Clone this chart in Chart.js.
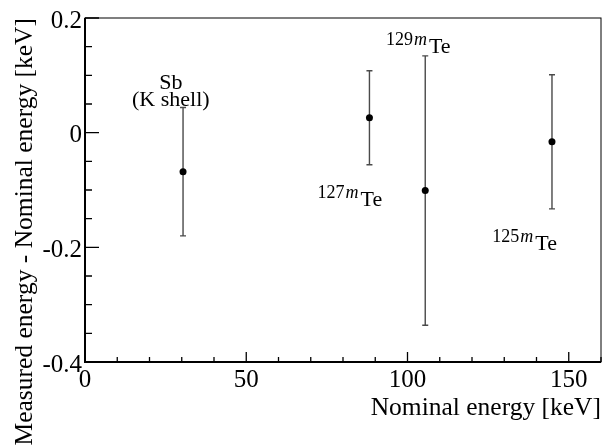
<!DOCTYPE html>
<html>
<head>
<meta charset="utf-8">
<script src="https://cdn.jsdelivr.net/npm/chart.js@4.4.1/dist/chart.umd.min.js"></script>
<style>
html, body { margin: 0; padding: 0; background: #fff; }
canvas { display: block; }
</style>
</head>
<body>
<canvas id="c" width="605" height="445"></canvas>
<script>
const energies = [30.4, 88.2, 105.5, 144.8];
const deltas = [-0.068, 0.026, -0.101, -0.016];
const errors = [0.112, 0.082, 0.235, 0.117];
const xTicks = [0, 50, 100, 150];
const yTicks = [-0.4, -0.2, 0, 0.2];
const elements = ['Sb', 'Te', 'Te', 'Te'];
const isomers = ['', '127m', '129m', '125m'];
const notes = ['(K shell)', '', '', ''];

const serif = '"Liberation Serif", "Times New Roman", serif';

// where each name sits, in axis units (left edge / baseline)
const labelAt = [[26.6, 0.076], [72.1, -0.1285], [93.3, 0.1396], [126.3, -0.2047]];

const errBars = {
  id: 'errBars',
  beforeDatasetsDraw(chart) {
    const {ctx, scales: {x, y}} = chart;
    ctx.save();
    ctx.strokeStyle = '#4a4a4a';
    ctx.lineWidth = 1.4;
    energies.forEach((e, i) => {
      const px = x.getPixelForValue(e);
      const hi = y.getPixelForValue(deltas[i] + errors[i]);
      const lo = y.getPixelForValue(deltas[i] - errors[i]);
      ctx.beginPath();
      ctx.moveTo(px, hi); ctx.lineTo(px, lo);
      ctx.moveTo(px - 3, hi); ctx.lineTo(px + 3, hi);
      ctx.moveTo(px - 3, lo); ctx.lineTo(px + 3, lo);
      ctx.stroke();
    });
    ctx.restore();
  },
  afterDraw(chart) {
    const {ctx, chartArea: a, scales: {x, y}} = chart;
    ctx.save();
    // frame
    ctx.strokeStyle = '#000';
    ctx.lineWidth = 1;
    ctx.strokeRect(a.left, a.top, a.right - a.left, a.bottom - a.top);
    ctx.lineWidth = 2;
    ctx.beginPath();
    ctx.moveTo(a.left, a.top); ctx.lineTo(a.left, a.bottom); ctx.lineTo(a.right, a.bottom);
    ctx.stroke();
    // ticks, pointing inwards
    ctx.lineWidth = 1.3;
    ctx.beginPath();
    for (let i = 0; i <= 16; i++) {
      const px = x.getPixelForValue(i * 10);
      const len = i % 5 === 0 ? 10 : 5;
      ctx.moveTo(px, a.bottom); ctx.lineTo(px, a.bottom - len);
    }
    for (let i = -8; i <= 4; i++) {
      const py = y.getPixelForValue(i * 0.05);
      const len = i % 4 === 0 ? 14 : 7;
      ctx.moveTo(a.left, py); ctx.lineTo(a.left + len, py);
    }
    ctx.stroke();

    // point names
    ctx.fillStyle = '#000';
    ctx.textBaseline = 'alphabetic';
    elements.forEach((el, i) => {
      const px = x.getPixelForValue(labelAt[i][0]);
      const py = y.getPixelForValue(labelAt[i][1]);
      if (!isomers[i]) {
        ctx.font = '22px ' + serif;
        ctx.textAlign = 'center';
        ctx.fillText(el, px, py);
        ctx.fillText(notes[i], px, py + 17);
        return;
      }
      ctx.textAlign = 'left';
      const num = isomers[i].slice(0, -1);
      ctx.font = '18px ' + serif;
      ctx.fillText(num, px, py - 8);
      let w = ctx.measureText(num).width + 1;
      ctx.font = 'italic 18px ' + serif;
      ctx.fillText('m', px + w, py - 8);
      w += ctx.measureText('m').width + 2;
      ctx.font = '22px ' + serif;
      ctx.fillText(el, px + w, py);
    });

    // axis titles
    ctx.font = '25.5px ' + serif;
    ctx.textAlign = 'right';
    ctx.textBaseline = 'alphabetic';
    ctx.fillText('Nominal energy [keV]', 601, 415);
    ctx.translate(32, a.top);
    ctx.rotate(-Math.PI / 2);
    ctx.fillText('Measured energy - Nominal energy [keV]', 0, 0);
    ctx.restore();
  }
};

new Chart(document.getElementById('c'), {
  type: 'scatter',
  data: {
    datasets: [{
      data: energies.map((e, i) => ({x: e, y: deltas[i]})),
      pointRadius: 3.5,
      pointBackgroundColor: '#000',
      pointBorderColor: '#000',
      pointBorderWidth: 0
    }]
  },
  options: {
    responsive: false,
    animation: false,
    layout: {padding: {top: 15, right: 2, left: 0, bottom: 0}},
    plugins: {legend: {display: false}, tooltip: {enabled: false}},
    scales: {
      x: {
        min: 0, max: 160,
        grid: {display: false, drawTicks: false},
        border: {display: false},
        afterBuildTicks: s => { s.ticks = xTicks.map(v => ({value: v})); },
        afterFit: s => { s.height = 83; },
        ticks: {
          color: '#000', padding: 3, maxRotation: 0, autoSkip: false,
          font: {family: serif, size: 25},
          callback: v => String(v)
        }
      },
      y: {
        min: -0.4, max: 0.2,
        grid: {display: false, drawTicks: false},
        border: {display: false},
        afterBuildTicks: s => { s.ticks = yTicks.map(v => ({value: v})); },
        afterFit: s => { s.width = 85; },
        ticks: {
          color: '#000', padding: 3, labelOffset: 3, autoSkip: false,
          font: {family: serif, size: 25},
          callback: v => String(Math.round(v * 10) / 10)
        }
      }
    }
  },
  plugins: [errBars]
});
</script>
</body>
</html>
